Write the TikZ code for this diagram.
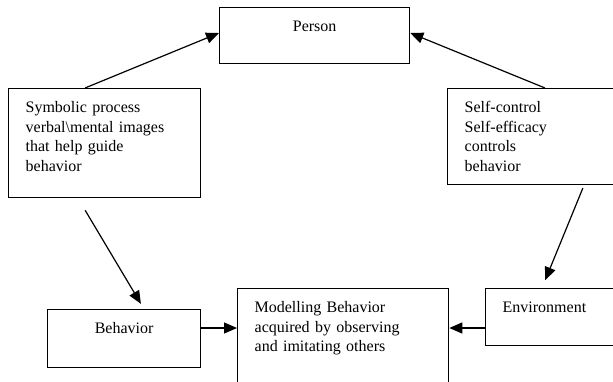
\documentclass[tikz,border=0pt]{standalone}
\usepackage{fontspec}
\setmainfont{Liberation Serif}
\usetikzlibrary{arrows.meta}
\begin{document}
\begin{tikzpicture}[x=1pt, y=-1pt, font=\fontsize{16}{19.5}\selectfont,
box/.style={draw, line width=1.3pt, anchor=north west, inner xsep=17pt, inner ysep=0pt, align=left, text height=24pt}]
\path[use as bounding box, clip] (0,0) rectangle (613,381);
\begin{scope}
\node[box, text width=156pt, text depth=32pt, align=center] (person) at (219,7) {Person};%top
\node[box, text width=158pt, text depth=85pt] (sym) at (8,88) {Symbolic process\\verbal\textbackslash mental images\\that help guide\\behavior};%left
\node[box, text width=170pt, text depth=72pt] (self) at (447,88) {Self-control\\Self-efficacy\\controls\\behavior};%right
\node[box, text width=119pt, text depth=34pt, align=center] (beh) at (47,309) {Behavior};%bottom left
\node[box, text width=177pt, text depth=86pt] (model) at (237,288) {Modelling Behavior\\acquired by observing\\and imitating others};%bottom middle
\node[box, text width=130pt, text depth=33pt] (env) at (485,288) {Environment};%bottom right
\end{scope}
\begin{scope}[every edge/.style={draw=black, line width=1.2pt, -{Triangle[length=13pt,width=11pt]}}]
\draw (sym.north -| 85,0) edge (person.west |- 0,33);
\draw (self.north -| 545,0) edge (person.east |- 0,33);
\draw (sym.south -| 78,0) edge[shorten <=14pt, shorten >=6pt] (beh.north -| 144,0);
\draw (self.south -| 584,0) edge[shorten <=3pt, shorten >=8.5pt] (env.north -| 542,0);
\draw (beh.east |- 0,328) edge (model.west |- 0,328);
\draw (env.west |- 0,328) edge (model.east |- 0,328);
\end{scope}
\end{tikzpicture}
\end{document}
